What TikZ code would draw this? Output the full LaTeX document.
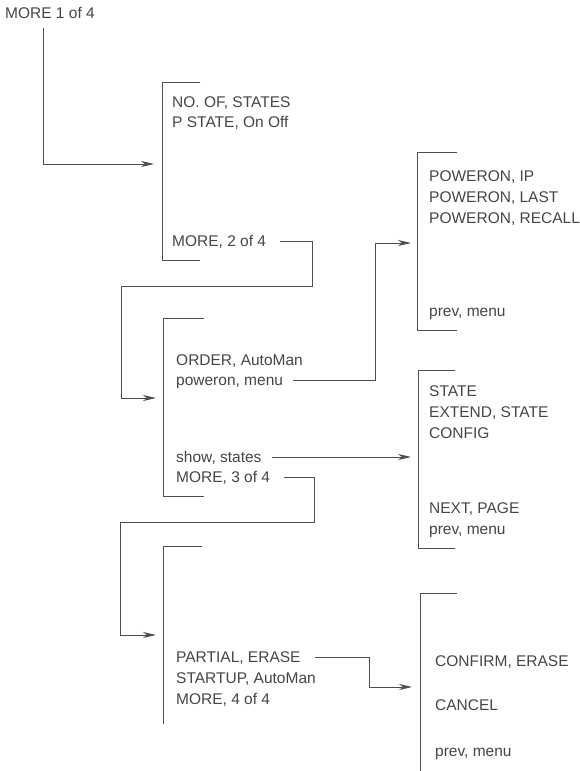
\documentclass[tikz,border=0pt]{standalone}
\usepackage{fontspec}
\setmainfont{Liberation Sans}
\usetikzlibrary{arrows.meta,calc,positioning}
\definecolor{ink}{HTML}{454545}
\definecolor{wiregray}{HTML}{4D4D4D}

\begin{document}
\begin{tikzpicture}[x=1pt, y=-1pt, >={Stealth[length=13pt,width=6pt,inset=4pt]},
  key/.style={anchor=west, inner sep=0pt, text height=11pt, text depth=0pt,
    text=ink, font=\fontsize{15.5}{18}\selectfont},
  wire/.style={wiregray, line width=0.8pt},
  bar/.style={wiregray, line width=0.8pt}]
  \useasboundingbox (0,0) rectangle (579,771);
  % entry key
  \node[key] (more1) at (5,13) {MORE 1 of 4};
  % menu 1 of 4
  \draw[bar] (200,82) -- (162,82) -- (162,260) -- (200,260);
  \node[key] (nostates) at (172,102) {NO. OF, STATES};
  \node[key] (pstate) at (172,122) {P STATE, On Off};
  \node[key] (more2) at (172,241) {MORE, 2 of 4};
  % menu 2 of 4
  \draw[bar] (204,318) -- (163,318) -- (163,496) -- (204,496);
  \node[key] (order) at (176,360) {ORDER, AutoMan};
  \node[key] (poweron) at (176,380) {poweron, menu};
  \node[key] (showst) at (176,457) {show, states};
  \node[key] (more3) at (176,477) {MORE, 3 of 4};
  % menu 3 of 4
  \draw[bar] (202,546) -- (163,546) -- (163,724);
  \node[key] (partial) at (176,657) {PARTIAL, ERASE};
  \node[key] (startup) at (176,678) {STARTUP, AutoMan};
  \node[key] (more4) at (176,699) {MORE, 4 of 4};
  % poweron menu
  \draw[bar] (457,152) -- (417,152) -- (417,330) -- (457,330);
  \node[key] (pwrip) at (429,176) {POWERON, IP};
  \node[key] (pwrlast) at (429,197) {POWERON, LAST};
  \node[key] (pwrrecall) at (429,218) {POWERON, RECALL};
  \node[key] (prevA) at (429,311) {prev, menu};
  % states menu
  \draw[bar] (455,370) -- (418,370) -- (418,548) -- (455,548);
  \node[key] (state) at (429,391) {STATE};
  \node[key] (extend) at (429,412) {EXTEND, STATE};
  \node[key] (config) at (429,433) {CONFIG};
  \node[key] (nextpg) at (429,508) {NEXT, PAGE};
  \node[key] (prevB) at (429,529) {prev, menu};
  % erase menu
  \draw[bar] (457,593) -- (420,593) -- (420,771);
  \node[key] (confirm) at (435,661) {CONFIRM, ERASE};
  \node[key] (cancel) at (435,705) {CANCEL};
  \node[key] (prevC) at (435,751) {prev, menu};
  % arrow ends
  \coordinate (in1) at (154,164);
  \coordinate (in2) at (156,398);
  \coordinate (in3) at (156,635);
  \coordinate (in4) at (411,243);
  \coordinate (in5) at (411,457);
  \coordinate (in6) at (412,687);
  % connectors
  \draw[wire,->] ([xshift=-7pt,yshift=-9.5pt]more1.south) |- (in1);
  \draw[wire,->] ([xshift=14pt]more2.east) -| (312,286) -| (121,398) -- (in2);
  \draw[wire,->] ([xshift=10pt]poweron.east) -| (375,243) -- (in4);
  \draw[wire,->] ([xshift=10pt]showst.east) -- (in5);
  \draw[wire,->] ([xshift=14pt]more3.east) -| (314,522) -| (120,635) -- (in3);
  \draw[wire,->] ([xshift=14pt]partial.east) -| (369,687) -- (in6);
\end{tikzpicture}
\end{document}
